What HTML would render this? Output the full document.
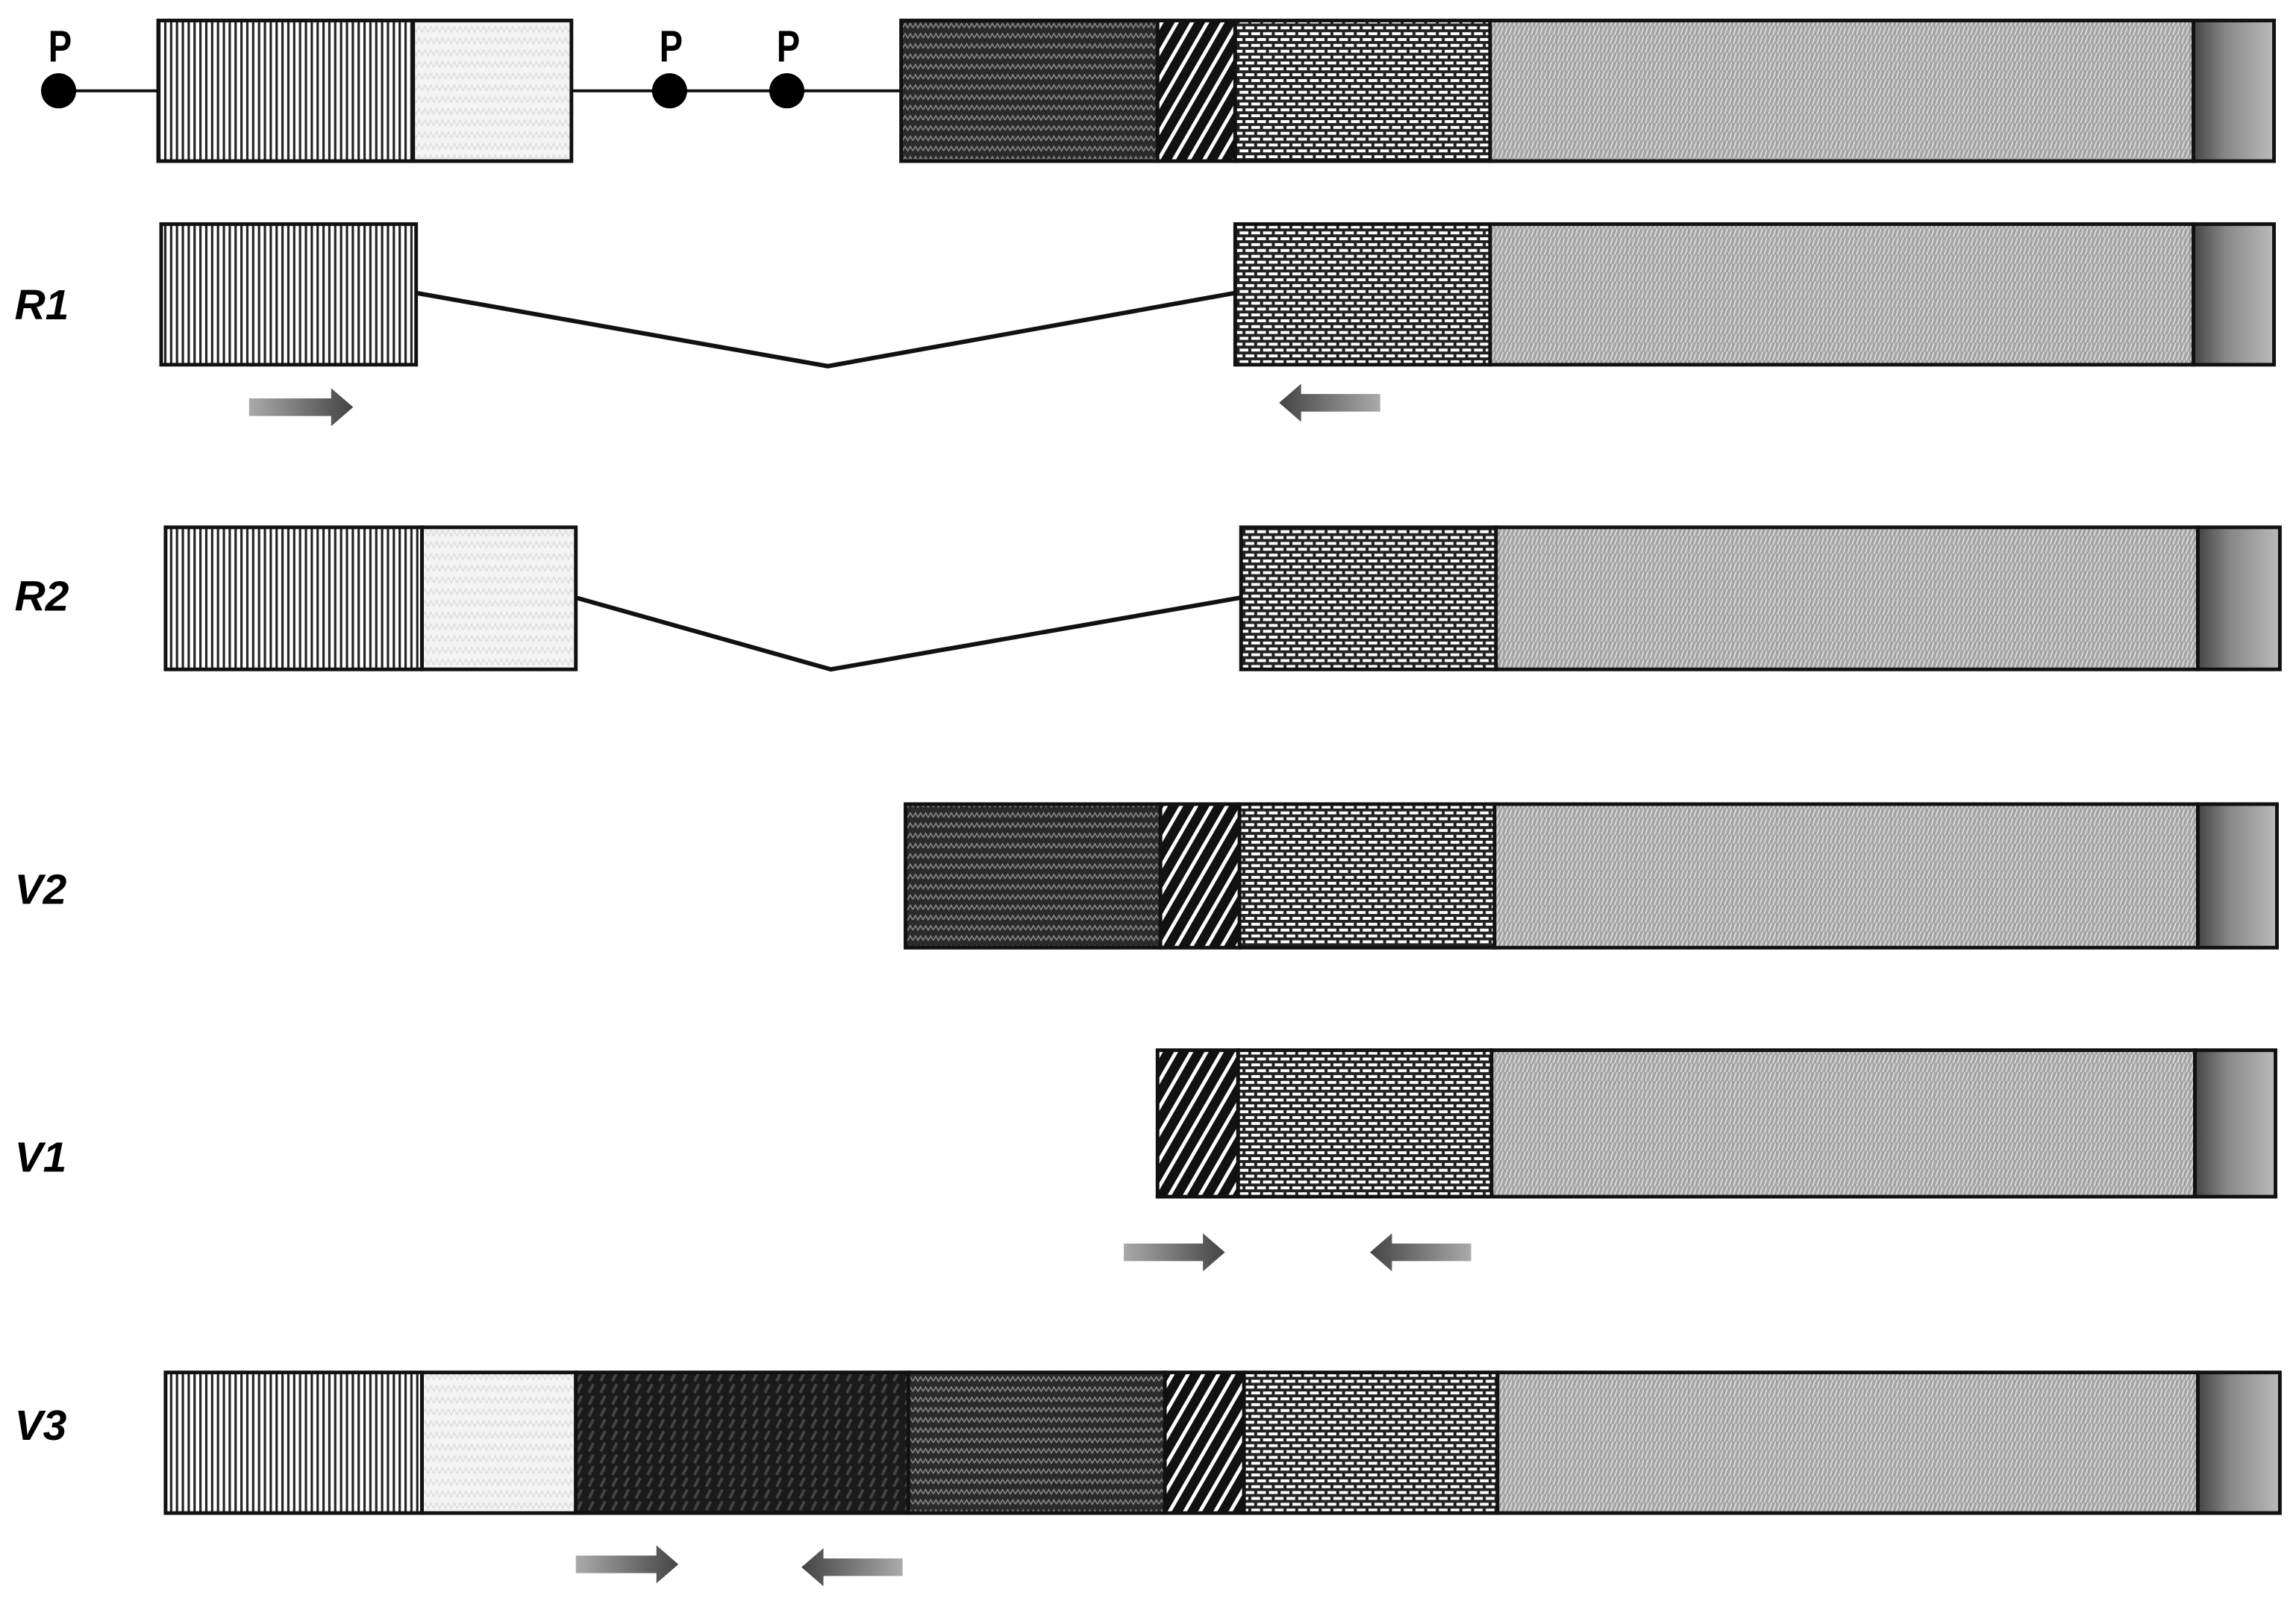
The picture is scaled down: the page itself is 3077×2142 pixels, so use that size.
<!DOCTYPE html>
<html><head><meta charset="utf-8"><style>html,body{margin:0;padding:0;background:#fff}svg{display:block}</style></head>
<body>
<svg width="3077" height="2142" viewBox="0 0 1567 1091" preserveAspectRatio="none" xmlns="http://www.w3.org/2000/svg">
<defs>
<pattern id="vl" width="4" height="10" patternUnits="userSpaceOnUse"><rect width="4" height="10" fill="#fff"/><rect width="1.6" height="10" fill="#222"/></pattern>
<pattern id="lt" width="8" height="8" patternUnits="userSpaceOnUse"><rect width="8" height="8" fill="#f4f4f4"/><path d="M0 6 L2 2 L4 6 L6 2 L8 6" stroke="#ddd" fill="none" stroke-width="0.8"/></pattern>
<pattern id="dk" width="7" height="7" patternUnits="userSpaceOnUse"><rect width="7" height="7" fill="#2a2a2a"/><path d="M0 5 L1.75 2 L3.5 5 L5.25 2 L7 5" stroke="#8a8a8a" fill="none" stroke-width="0.8"/></pattern>
<pattern id="dd" width="8" height="8" patternUnits="userSpaceOnUse"><rect width="8" height="8" fill="#1a1a1a"/><path d="M2 7 L5 1" stroke="#444" stroke-width="2"/></pattern>
<pattern id="ht" width="9" height="9" patternUnits="userSpaceOnUse" patternTransform="rotate(30)"><rect width="9" height="9" fill="#111"/><rect width="2.5" height="9" fill="#fff"/></pattern>
<pattern id="br" width="8" height="8" patternUnits="userSpaceOnUse"><rect width="8" height="8" fill="#fff"/><rect y="0" width="8" height="2" fill="#222"/><rect y="4" width="8" height="2" fill="#222"/><rect x="0" y="0" width="2" height="4" fill="#222"/><rect x="4" y="4" width="2" height="4" fill="#222"/></pattern>
<pattern id="gw" width="6" height="6" patternUnits="userSpaceOnUse"><rect width="6" height="6" fill="#a2a2a2"/><path d="M1 6 L3 0 M4 6 L6 0" stroke="#dadada" stroke-width="1"/></pattern>
<linearGradient id="gr" x1="0" x2="1"><stop offset="0" stop-color="#444"/><stop offset="0.4" stop-color="#888"/><stop offset="1" stop-color="#bbb"/></linearGradient>
<linearGradient id="ar" x1="0" x2="1"><stop offset="0" stop-color="#aaa"/><stop offset="1" stop-color="#444"/></linearGradient>
<linearGradient id="al" x1="1" x2="0"><stop offset="0" stop-color="#aaa"/><stop offset="1" stop-color="#444"/></linearGradient>
</defs>
<g stroke="#111" stroke-width="2.5">
<line x1="40" y1="62" x2="615" y2="62" stroke-width="2"/>
<rect x="108" y="14" width="174" height="96" fill="url(#vl)"/>
<rect x="282" y="14" width="108" height="96" fill="url(#lt)"/>
<rect x="615" y="14" width="175" height="96" fill="url(#dk)"/>
<rect x="790" y="14" width="53" height="96" fill="url(#ht)"/>
<rect x="843" y="14" width="174" height="96" fill="url(#br)"/>
<rect x="1017" y="14" width="480" height="96" fill="url(#gw)"/>
<rect x="1497" y="14" width="55" height="96" fill="url(#gr)"/>
<rect x="110" y="153" width="174" height="96" fill="url(#vl)"/>
<polyline points="284,200 565,250 843,200" fill="none" stroke-width="3"/>
<rect x="843" y="153" width="174" height="96" fill="url(#br)"/>
<rect x="1017" y="153" width="480" height="96" fill="url(#gw)"/>
<rect x="1497" y="153" width="55" height="96" fill="url(#gr)"/>
<rect x="113" y="360" width="175" height="97" fill="url(#vl)"/>
<rect x="288" y="360" width="105" height="97" fill="url(#lt)"/>
<polyline points="393,408 567,457 847,408" fill="none" stroke-width="3"/>
<rect x="847" y="360" width="174" height="97" fill="url(#br)"/>
<rect x="1021" y="360" width="479" height="97" fill="url(#gw)"/>
<rect x="1500" y="360" width="56" height="97" fill="url(#gr)"/>
<rect x="618" y="549" width="174" height="98" fill="url(#dk)"/>
<rect x="792" y="549" width="54" height="98" fill="url(#ht)"/>
<rect x="846" y="549" width="174" height="98" fill="url(#br)"/>
<rect x="1020" y="549" width="480" height="98" fill="url(#gw)"/>
<rect x="1500" y="549" width="54" height="98" fill="url(#gr)"/>
<rect x="790" y="717" width="55" height="100" fill="url(#ht)"/>
<rect x="845" y="717" width="173" height="100" fill="url(#br)"/>
<rect x="1018" y="717" width="480" height="100" fill="url(#gw)"/>
<rect x="1498" y="717" width="55" height="100" fill="url(#gr)"/>
<rect x="113" y="937" width="175" height="96" fill="url(#vl)"/>
<rect x="288" y="937" width="105" height="96" fill="url(#lt)"/>
<rect x="393" y="937" width="227" height="96" fill="url(#dd)"/>
<rect x="620" y="937" width="175" height="96" fill="url(#dk)"/>
<rect x="795" y="937" width="54" height="96" fill="url(#ht)"/>
<rect x="849" y="937" width="173" height="96" fill="url(#br)"/>
<rect x="1022" y="937" width="478" height="96" fill="url(#gw)"/>
<rect x="1500" y="937" width="56" height="96" fill="url(#gr)"/>
</g>
<g fill="#000">
<circle cx="40" cy="62" r="12"/><circle cx="457" cy="62" r="12"/><circle cx="537" cy="62" r="12"/>
</g>
<g font-family="Liberation Sans, sans-serif" font-weight="bold" font-size="30" fill="#000">
<text x="33" y="42" transform="scale(1,1)" textLength="16" lengthAdjust="spacingAndGlyphs">P</text>
<text x="450" y="42" textLength="16" lengthAdjust="spacingAndGlyphs">P</text>
<text x="530" y="42" textLength="16" lengthAdjust="spacingAndGlyphs">P</text>
</g>
<g font-family="Liberation Sans, sans-serif" font-weight="bold" font-style="italic" font-size="29" fill="#000">
<text x="10" y="218">R1</text><text x="10" y="417">R2</text><text x="10" y="617">V2</text><text x="10" y="800">V1</text><text x="10" y="983">V3</text>
</g>
<g>
<path d="M170 272 H226 V265 L241 278 L226 291 V284 H170 Z" fill="url(#ar)"/>
<path d="M942 269 H888 V262 L873 275 L888 288 V281 H942 Z" fill="url(#al)"/>
<path d="M767 849 H821 V842 L836 855 L821 868 V861 H767 Z" fill="url(#ar)"/>
<path d="M1004 849 H950 V842 L935 855 L950 868 V861 H1004 Z" fill="url(#al)"/>
<path d="M393 1062 H448 V1055 L463 1068 L448 1081 V1074 H393 Z" fill="url(#ar)"/>
<path d="M616 1064 H562 V1057 L547 1070 L562 1083 V1076 H616 Z" fill="url(#al)"/>
</g>
</svg>
</body></html>
